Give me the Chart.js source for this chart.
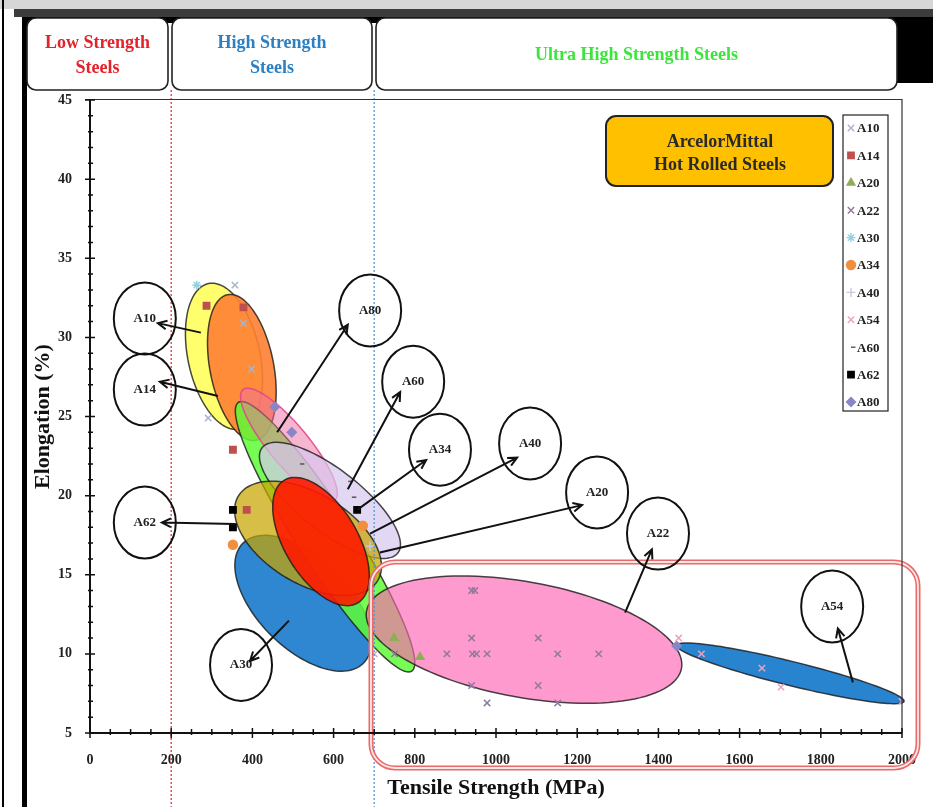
<!DOCTYPE html>
<html lang="en">
<head>
<meta charset="UTF-8" />
<title>Elongation vs Tensile Strength</title>
<script src="https://cdnjs.cloudflare.com/ajax/libs/Chart.js/4.4.1/chart.umd.min.js"></script>
<style>
  body { margin: 0; background: #fff; }
  canvas { display: block; }
</style>
</head>
<body>
<canvas id="myChart" width="933" height="807"></canvas>
<script>
// ---- data ----
const seriesNames = ['A10', 'A14', 'A20', 'A22', 'A30', 'A34', 'A40', 'A54', 'A60', 'A62', 'A80'];
const a10 = [[357, 33.3], [378, 30.9], [398, 28.0], [291, 24.9]];
const a14 = [[287, 32.0], [378, 31.9], [352, 22.9], [386, 19.1]];
const a20 = [[749, 11.0], [813, 9.8]];
const a22 = [[940, 14], [948, 14], [940, 11], [879, 10], [942, 10], [952, 10], [978, 10], [1104, 11],
             [1152, 10], [1253, 10], [940, 8], [1104, 8], [978, 6.9], [1152, 6.9], [750, 10]];
const a30 = [[263, 33.3]];
const a34 = [[352, 16.9], [672, 18.1]];
const a40 = [[690, 16.8]];
const a54 = [[1450, 11.0], [1506, 10.0], [1655, 9.1], [1702, 7.9], [2000, 7.0], [700, 10]];
const a60 = [[517, 22.0], [636, 20.9], [645, 19.9]];
const a62 = [[352, 19.1], [352, 18.0], [658, 19.1]];
const a80 = [[455, 25.6], [497, 24.0], [1445, 10.5]];
const seriesPoints = [a10, a14, a20, a22, a30, a34, a40, a54, a60, a62, a80];

const xTicks = [0, 200, 400, 600, 800, 1000, 1200, 1400, 1600, 1800, 2000];
const yTicks = [5, 10, 15, 20, 25, 30, 35, 40, 45];

// grade regions (ellipses): centre, end of long axis, end of short axis
const groupNames = ['A30', 'A10', 'A34', 'A20', 'A80', 'A60', 'A62', 'A40', 'A22', 'A54'];
const groupCentre = [[525, 13.2], [330, 28.8], [374, 28.1], [579, 17.4], [490, 23.2], [591, 19.7], [537, 17.3], [569, 17.1], [1069, 10.9], [1725, 8.77]];
const groupMajor  = [[673, 9.4], [368, 24.2], [409, 23.5], [792, 8.9], [603, 19.7], [759, 16.4], [708, 14.6], [658, 13.2], [1457, 9.1], [2005, 7.0]];
const groupMinor  = [[445, 11.2], [243, 28.35], [297, 27.7], [520, 16.5], [452, 22.4], [547, 18.1], [478, 14.9], [490, 16.0], [1045, 7.3], [1718, 8.03]];

// callouts: label circle, arrow tail (on region), arrow head (at label)
const calloutNames = ['A10', 'A14', 'A62', 'A30', 'A80', 'A60', 'A34', 'A40', 'A20', 'A22', 'A54'];
const calloutAt   = [[135, 31.2], [135, 26.7], [135, 18.3], [372, 9.3], [690, 31.7], [796, 27.2], [862, 22.9], [1084, 23.3], [1249, 20.2], [1399, 17.6], [1828, 13.0]];
const calloutTail = [[273, 30.3], [315, 26.3], [357, 18.2], [490, 12.1], [461, 24.0], [635, 20.4], [658, 19.1], [690, 17.6], [714, 16.4], [1318, 12.6], [1879, 8.2]];
const calloutHead = [[167, 30.9], [172, 27.2], [177, 18.3], [394, 9.55], [635, 30.8], [764, 26.55], [828, 22.25], [1052, 22.4], [1212, 19.4], [1384, 16.6], [1842, 11.6]];

const steelClasses = [['Low Strength', 'Steels'], ['High Strength', 'Steels'], ['Ultra High Strength Steels']];
const classLimits = [200, 700];

// ---- styles ----
const serif = '"Liberation Serif", "Times New Roman", serif';
const markerStyle = {
  A10: ['crossRot', '#a9b3cc'], A14: ['rect', '#c0504d'], A20: ['triangle', '#8fae55'],
  A22: ['crossRot', '#8f7a9c'], A30: ['star', '#8fd3e3'], A34: ['circle', '#f0903f'],
  A40: ['cross', '#c5cade'], A54: ['crossRot', '#eba3bb'], A60: ['dash', '#555555'],
  A62: ['rect', '#000000'], A80: ['rectRot', '#8a86c6']
};
const groupFill = {
  A30: 'rgba(30,125,205,0.92)', A10: 'rgba(255,255,90,0.88)', A34: 'rgba(255,128,50,0.9)',
  A20: 'rgba(95,250,55,0.85)', A80: 'rgba(240,110,160,0.5)', A60: 'rgba(215,200,240,0.7)',
  A62: 'rgba(200,165,0,0.72)', A40: 'rgba(255,25,0,0.9)', A22: 'rgba(255,100,180,0.65)',
  A54: 'rgba(30,125,205,0.95)'
};
const headerColor = ['#e3222c', '#2b80c2', '#3be53b'];

function px(chart, p) {
  return [chart.scales.x.getPixelForValue(p[0]), chart.scales.y.getPixelForValue(p[1])];
}

function roundRect(ctx, x, y, w, h, r) {
  ctx.beginPath();
  ctx.moveTo(x + r, y);
  ctx.arcTo(x + w, y, x + w, y + h, r);
  ctx.arcTo(x + w, y + h, x, y + h, r);
  ctx.arcTo(x, y + h, x, y, r);
  ctx.arcTo(x, y, x + w, y, r);
  ctx.closePath();
}

function arrow(ctx, x1, y1, x2, y2) {
  const a = Math.atan2(y2 - y1, x2 - x1);
  ctx.beginPath();
  ctx.moveTo(x1, y1);
  ctx.lineTo(x2, y2);
  ctx.moveTo(x2 - 10 * Math.cos(a - 0.45), y2 - 10 * Math.sin(a - 0.45));
  ctx.lineTo(x2, y2);
  ctx.lineTo(x2 - 10 * Math.cos(a + 0.45), y2 - 10 * Math.sin(a + 0.45));
  ctx.stroke();
}

const decor = {
  id: 'decor',
  beforeDraw(chart) {
    const ctx = chart.ctx;
    ctx.save();
    ctx.fillStyle = '#fff';
    ctx.fillRect(0, 0, chart.width, chart.height);
    // page frame
    ctx.fillStyle = '#d6d6d6';
    ctx.fillRect(0, 0, 933, 9);
    ctx.fillStyle = '#3c3c3c';
    ctx.fillRect(14, 9, 919, 8);
    ctx.fillStyle = '#000';
    ctx.fillRect(22, 17, 911, 6);
    ctx.fillRect(897, 17, 36, 66);
    ctx.fillRect(2, 0, 2, 807);
    ctx.fillRect(22, 17, 5, 790);
    // class header boxes
    const boxes = [[27, 168], [172, 372], [376, 897]];
    boxes.forEach((b, i) => {
      roundRect(ctx, b[0], 18, b[1] - b[0], 72, 9);
      ctx.fillStyle = '#fff';
      ctx.fill();
      ctx.lineWidth = 1.6;
      ctx.strokeStyle = '#222';
      ctx.stroke();
      ctx.fillStyle = headerColor[i];
      ctx.font = 'bold 18px ' + serif;
      ctx.textAlign = 'center';
      ctx.textBaseline = 'middle';
      const lines = steelClasses[i];
      const cx = (b[0] + b[1]) / 2;
      if (lines.length === 2) {
        ctx.fillText(lines[0], cx, 43);
        ctx.fillText(lines[1], cx, 68);
      } else {
        ctx.fillText(lines[0], cx, 55);
      }
    });
    ctx.restore();
  },
  beforeDatasetsDraw(chart) {
    const ctx = chart.ctx;
    ctx.save();
    groupNames.forEach((g, i) => {
      const c = px(chart, groupCentre[i]);
      const m = px(chart, groupMajor[i]);
      const n = px(chart, groupMinor[i]);
      const u = [m[0] - c[0], m[1] - c[1]];
      const v = [n[0] - c[0], n[1] - c[1]];
      ctx.beginPath();
      for (let k = 0; k <= 120; k++) {
        const t = k / 120 * Math.PI * 2;
        const x = c[0] + u[0] * Math.cos(t) + v[0] * Math.sin(t);
        const y = c[1] + u[1] * Math.cos(t) + v[1] * Math.sin(t);
        if (k === 0) ctx.moveTo(x, y); else ctx.lineTo(x, y);
      }
      ctx.closePath();
      ctx.fillStyle = groupFill[g];
      ctx.fill();
      ctx.lineWidth = 1.5;
      ctx.strokeStyle = g === 'A80' ? 'rgba(225,70,140,0.9)' : 'rgba(25,25,25,0.8)';
      ctx.stroke();
    });
    ctx.restore();
  },
  afterDatasetsDraw(chart) {
    const ctx = chart.ctx;
    const area = chart.chartArea;
    const xs = chart.scales.x, ys = chart.scales.y;
    ctx.save();
    // class limits
    ctx.lineWidth = 1.4;
    ctx.setLineDash([2, 2]);
    ['rgba(225,50,50,0.9)', 'rgba(80,150,210,0.9)'].forEach((col, i) => {
      const x = xs.getPixelForValue(classLimits[i]);
      ctx.strokeStyle = col;
      ctx.beginPath();
      ctx.moveTo(x, 90);
      ctx.lineTo(x, 807);
      ctx.stroke();
    });
    ctx.setLineDash([]);
    // UHSS highlight frame
    roundRect(ctx, 371, 562, 547, 206, 24);
    ctx.lineWidth = 5;
    ctx.strokeStyle = '#e86a6a';
    ctx.stroke();
    ctx.lineWidth = 1.8;
    ctx.strokeStyle = '#fde6e6';
    ctx.stroke();
    // callouts
    ctx.strokeStyle = '#111';
    ctx.lineWidth = 2;
    ctx.fillStyle = '#222';
    ctx.font = 'bold 13px ' + serif;
    ctx.textAlign = 'center';
    ctx.textBaseline = 'middle';
    calloutNames.forEach((name, i) => {
      const c = px(chart, calloutAt[i]);
      const t = px(chart, calloutTail[i]);
      const h = px(chart, calloutHead[i]);
      ctx.beginPath();
      ctx.ellipse(c[0], c[1], 31, 36, 0, 0, Math.PI * 2);
      ctx.stroke();
      ctx.fillText(name, c[0], c[1]);
      arrow(ctx, t[0], t[1], h[0], h[1]);
    });
    // producer box
    roundRect(ctx, 606, 116, 227, 70, 10);
    ctx.fillStyle = '#ffc000';
    ctx.fill();
    ctx.lineWidth = 2;
    ctx.strokeStyle = '#222';
    ctx.stroke();
    ctx.fillStyle = '#2a2a2a';
    ctx.font = 'bold 18px ' + serif;
    ctx.fillText('ArcelorMittal', 720, 142);
    ctx.fillText('Hot Rolled Steels', 720, 165);
    // legend
    ctx.fillStyle = '#fff';
    ctx.fillRect(843, 115, 45, 296);
    ctx.lineWidth = 1.2;
    ctx.strokeStyle = '#222';
    ctx.strokeRect(843, 115, 45, 296);
    ctx.font = 'bold 13px ' + serif;
    ctx.textAlign = 'left';
    chart.data.datasets.forEach((ds, i) => {
      const y = 128 + i * 27.4;
      ctx.fillStyle = ds.backgroundColor;
      ctx.strokeStyle = ds.borderColor;
      ctx.lineWidth = 1.4;
      Chart.helpers.drawPoint(ctx, { pointStyle: ds.pointStyle, radius: 4.5, rotation: 0, borderWidth: 1.4 }, 851, y);
      ctx.fillStyle = '#222';
      ctx.fillText(ds.label, 857, y + 1);
    });
    // plot frame and axes
    ctx.strokeStyle = '#333';
    ctx.lineWidth = 1.2;
    ctx.beginPath();
    ctx.moveTo(85, area.top - 0.5);
    ctx.lineTo(area.right, area.top - 0.5);
    ctx.lineTo(area.right, area.bottom);
    ctx.stroke();
    ctx.strokeStyle = '#111';
    ctx.lineWidth = 2;
    ctx.beginPath();
    ctx.moveTo(area.left, area.top);
    ctx.lineTo(area.left, area.bottom);
    ctx.lineTo(area.right, area.bottom);
    ctx.stroke();
    ctx.lineWidth = 1.5;
    ctx.beginPath();
    for (let v = 0; v <= 2000; v += 50) {
      const x = xs.getPixelForValue(v);
      const major = v % 200 === 0;
      ctx.moveTo(x, area.bottom - (major ? 5 : 4));
      ctx.lineTo(x, area.bottom + (major ? 5 : 2));
    }
    for (let v = 5; v <= 45; v += 1) {
      const y = ys.getPixelForValue(v);
      const major = v % 5 === 0;
      ctx.moveTo(area.left - (major ? 5 : 2), y);
      ctx.lineTo(area.left + (major ? 5 : 3), y);
    }
    ctx.stroke();
    ctx.restore();
  }
};

const ctx = document.getElementById('myChart').getContext('2d');
const myChart = new Chart(ctx, {
  type: 'scatter',
  data: {
    datasets: seriesNames.map((name, i) => ({
      label: name,
      data: seriesPoints[i].map(p => ({ x: p[0], y: p[1] })),
      pointStyle: markerStyle[name][0],
      backgroundColor: markerStyle[name][1],
      borderColor: markerStyle[name][1],
      pointRadius: 4.5,
      pointBorderWidth: 1.5
    }))
  },
  options: {
    responsive: false,
    animation: false,
    devicePixelRatio: 1,
    layout: { padding: { left: 27, top: 100, right: 31, bottom: 0 } },
    plugins: { legend: { display: false }, tooltip: { enabled: false } },
    scales: {
      x: {
        type: 'linear', min: 0, max: 2000,
        afterBuildTicks: s => { s.ticks = xTicks.map(v => ({ value: v })); },
        ticks: { color: '#222', font: { family: serif, size: 14, weight: 'bold' }, padding: 11, maxRotation: 0,
                 callback: v => String(v) },
        grid: { display: false },
        border: { display: false },
        title: { display: true, text: 'Tensile Strength (MPa)', color: '#111',
                 font: { family: serif, size: 22, weight: 'bold' }, padding: { top: 0, bottom: 5 } },
        afterFit: s => { s.height = 74; }
      },
      y: {
        type: 'linear', min: 5, max: 45,
        afterBuildTicks: s => { s.ticks = yTicks.map(v => ({ value: v })); },
        ticks: { color: '#222', font: { family: serif, size: 14, weight: 'bold' }, padding: 10,
                 callback: v => String(v) },
        grid: { display: false },
        border: { display: false },
        title: { display: true, text: 'Elongation (%)', color: '#111',
                 font: { family: serif, size: 22, weight: 'bold' }, padding: { top: 3, bottom: 0 } },
        afterFit: s => { s.width = 63; }
      }
    }
  },
  plugins: [decor]
});
</script>
</body>
</html>
